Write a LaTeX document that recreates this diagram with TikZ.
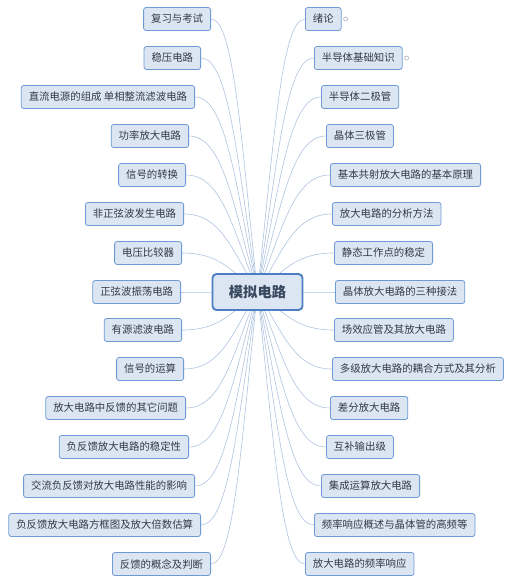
\documentclass[tikz,border=0pt]{standalone}
\usepackage{fontspec}
\setmainfont{Noto Sans CJK SC}
\usetikzlibrary{backgrounds,calc}

\definecolor{boxfill}{HTML}{DCE6F3}
\definecolor{boxline}{HTML}{6E9AD6}
\definecolor{rootline}{HTML}{4A7FC1}
\definecolor{linkcol}{HTML}{AFC3E0}
\definecolor{txtcol}{HTML}{333A45}
\definecolor{foldcol}{HTML}{B4B4CC}

\tikzset{
  topic/.style={draw=boxline, fill=boxfill, rounded corners=2.5pt, line width=0.8pt,
    minimum height=23pt, inner xsep=7.5pt, inner ysep=0pt, text=txtcol,
    font=\fontsize{10.4}{12}\selectfont},
  roottopic/.style={draw=rootline, fill=boxfill, rounded corners=4pt, line width=1.9pt,
    minimum width=90pt, minimum height=36pt, text=txtcol!80!rootline,
    font=\fontsize{14.3}{16}\selectfont\bfseries},
  link/.style={draw=linkcol, line width=0.6pt},
  fold/.style={draw=foldcol, line width=0.7pt}
}

\begin{document}
\begin{tikzpicture}[x=1pt,y=-1pt]
  \useasboundingbox (0,0) rectangle (513,584);

  \node[roottopic] (root) at (257.5,292) {模拟电路};

  % left side
  \foreach \i/\x/\y/\t in {1/211/19/复习与考试, 2/201/58/稳压电路,
      3/195/97/直流电源的组成 单相整流滤波电路, 4/189/136/功率放大电路,
      5/186/175/信号的转换, 6/184/214/非正弦波发生电路, 7/182/253/电压比较器,
      8/181/292/正弦波振荡电路, 9/182/330/有源滤波电路, 10/184/369/信号的运算,
      11/186/408/放大电路中反馈的其它问题, 12/189/447/负反馈放大电路的稳定性,
      13/195/486/交流负反馈对放大电路性能的影响,
      14/201/525/负反馈放大电路方框图及放大倍数估算, 15/211/564/反馈的概念及判断}
    \node[topic, anchor=east] (l\i) at (\x,\y) {\t};

  % right side
  \foreach \i/\x/\y/\t in {1/305/19/绪论, 2/314/58/半导体基础知识,
      3/321/97/半导体二极管, 4/326/136/晶体三极管,
      5/330/175/基本共射放大电路的基本原理, 6/332/214/放大电路的分析方法,
      7/334/253/静态工作点的稳定, 8/335/292/晶体放大电路的三种接法,
      9/334/330/场效应管及其放大电路, 10/332/369/多级放大电路的耦合方式及其分析,
      11/330/408/差分放大电路, 12/326/447/互补输出级, 13/321/486/集成运算放大电路,
      14/314/525/频率响应概述与晶体管的高频等, 15/305/564/放大电路的频率响应}
    \node[topic, anchor=west] (r\i) at (\x,\y) {\t};

  \draw[fold] ([xshift=4pt]r1.east) circle (2pt);
  \draw[fold] ([xshift=4pt]r2.east) circle (2pt);

  % curved links, under the topics
  \begin{pgfonlayer}{background}
    \foreach \i in {1,...,15} {
      \draw[link] let \p0=(root.center), \p1=(l\i.east) in
        (root.center) .. controls ({\x0+0.35*(\x1-\x0)},{\y0+0.55*(\y1-\y0)})
          and ({0.5*(\x0+\x1)},\y1) .. (l\i.east);
      \draw[link] let \p0=(root.center), \p1=(r\i.west) in
        (root.center) .. controls ({\x0+0.35*(\x1-\x0)},{\y0+0.55*(\y1-\y0)})
          and ({0.5*(\x0+\x1)},\y1) .. (r\i.west);
    }
  \end{pgfonlayer}
\end{tikzpicture}
\end{document}
